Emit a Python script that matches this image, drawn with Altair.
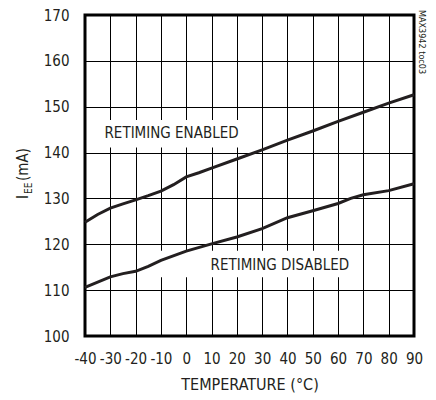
import altair as alt
import pandas as pd

FONT = "Liberation Sans Narrow, Arial Narrow, DejaVu Sans Condensed, sans-serif"
INK = "#231f20"

# Temperature (°C) sample points
temp_en = [-40, -35, -30, -25, -20, -15, -10, -5, 0, 5, 10, 20, 30, 40, 50, 60, 70, 80, 90]
iee_en = [124.8, 126.5, 127.9, 128.8, 129.7, 130.6, 131.6, 133.0, 134.7, 135.6, 136.6,
          138.6, 140.6, 142.7, 144.7, 146.8, 148.8, 150.8, 152.6]

temp_dis = [-40, -30, -25, -20, -15, -10, 0, 10, 20, 30, 40, 50, 60, 65, 70, 80, 90]
iee_dis = [110.6, 112.9, 113.6, 114.1, 115.2, 116.5, 118.5, 120.1, 121.6, 123.4, 125.8,
           127.3, 128.9, 130.0, 130.8, 131.7, 133.2]

x_ticks = list(range(-40, 100, 10))
y_ticks = list(range(100, 180, 10))

labels = ["RETIMING ENABLED", "RETIMING DISABLED"]
label_t = [-5.8, 37.0]
label_v = [144.2, 115.5]
box_t1 = [-34.0, -12.5]
box_t2 = [23.0, 66.5]
box_v1 = [141.1, 112.8]
box_v2 = [147.1, 118.6]

df = pd.concat([
    pd.DataFrame({"T": temp_en, "I": iee_en, "s": "en"}),
    pd.DataFrame({"T": temp_dis, "I": iee_dis, "s": "dis"}),
])
ann = pd.DataFrame({"label": labels, "T": label_t, "I": label_v,
                    "T1": box_t1, "T2": box_t2, "I1": box_v1, "I2": box_v2})
one = pd.DataFrame({"a": [0]})

xs = alt.Scale(domain=[-40, 90], nice=False, zero=False)
ys = alt.Scale(domain=[100, 170], nice=False, zero=False)

xaxis = alt.Axis(values=x_ticks, title="TEMPERATURE (°C)", labelPadding=15,
                 labelExpr="datum.value < 0 ? '-' + abs(datum.value) : '' + datum.value",
                 titlePadding=10, titleFontSize=16, titleFont=FONT, titleFontWeight="normal",
                 titleColor=INK)
yaxis = alt.Axis(values=y_ticks, title=None, labelPadding=16)


def X(f):
    return alt.X(f, scale=xs, axis=xaxis)


def Y(f):
    return alt.Y(f, scale=ys, axis=yaxis)


boxes = alt.Chart(ann).mark_rect(color="white").encode(
    x=X("T1:Q"), x2="T2:Q", y=Y("I1:Q"), y2="I2:Q",
)

lines = alt.Chart(df).mark_line(color=INK, strokeWidth=3).encode(
    x=X("T:Q"), y=Y("I:Q"), detail="s:N",
)

texts = alt.Chart(ann).mark_text(font=FONT, fontSize=15, color=INK).encode(
    x=X("T:Q"), y=Y("I:Q"), text="label:N"
)

t_i = alt.Chart(one).mark_text(text="I", font=FONT, fontSize=15, color=INK, angle=270,
                               align="left", baseline="alphabetic").encode(
    x=alt.value(-57), y=alt.value(184))
t_ee = alt.Chart(one).mark_text(text="EE", font=FONT, fontSize=10, color=INK, angle=270,
                                align="left", baseline="alphabetic").encode(
    x=alt.value(-53), y=alt.value(179))
t_ma = alt.Chart(one).mark_text(text="(mA)", font=FONT, fontSize=15, color=INK, angle=270,
                                align="left", baseline="alphabetic").encode(
    x=alt.value(-57), y=alt.value(166))
t_id = alt.Chart(one).mark_text(text="MAX3942 toc03", font=FONT, fontSize=9, color=INK,
                                angle=90, align="left", baseline="middle").encode(
    x=alt.value(337), y=alt.value(-5))

chart = alt.layer(boxes, lines, texts, t_i, t_ee, t_ma, t_id).properties(
    width=329, height=321,
    autosize=alt.AutoSizeParams(type="none"),
    padding={"left": 77, "top": 7, "right": 13, "bottom": 62},
).configure_view(stroke="black", strokeWidth=3).configure_axis(
    grid=True, gridColor="black", gridOpacity=1, gridWidth=1,
    domain=False, ticks=False, labelFont=FONT, labelFontSize=15, labelColor=INK,
    labelOverlap=False, labelFlush=False,
)

chart.save("out.html", embed_options={"renderer": "svg", "actions": False})
